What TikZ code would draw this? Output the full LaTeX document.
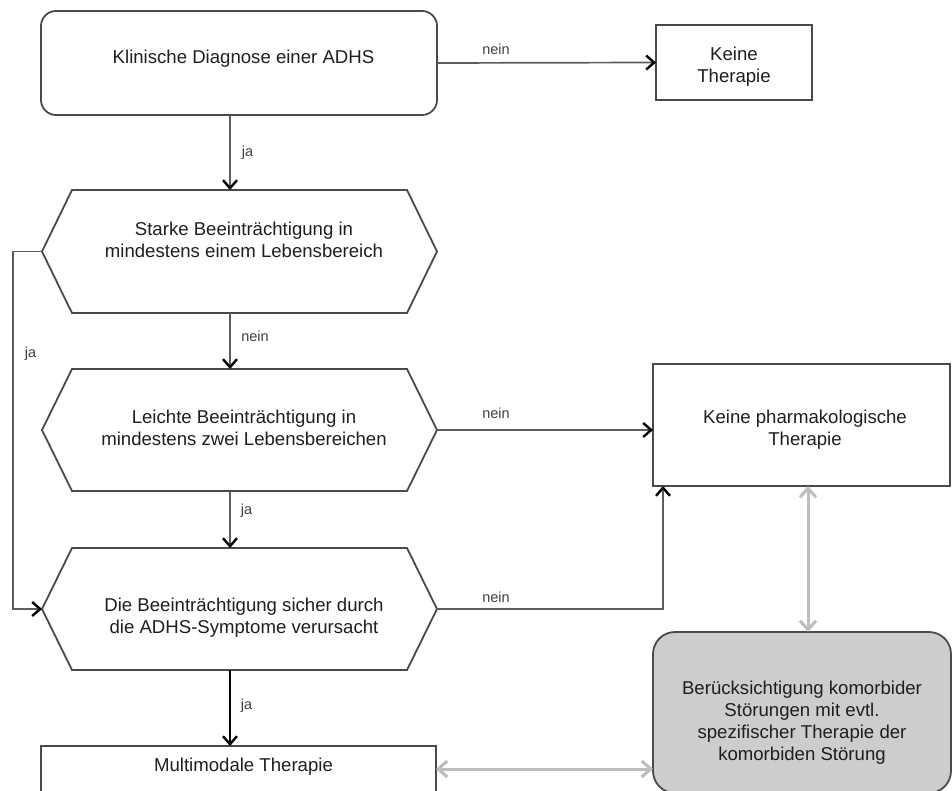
\documentclass[tikz,border=0pt]{standalone}
\usepackage{fontspec}
\setmainfont{Liberation Sans}
\usetikzlibrary{arrows.meta,calc}
\definecolor{linegray}{HTML}{5C5C5C}
\definecolor{bordergray}{HTML}{4A4A4A}
\definecolor{lightarrow}{HTML}{BDBDBD}
\definecolor{boxfill}{HTML}{CDCDCD}
\definecolor{txtcol}{HTML}{1E1E1E}
\newcommand\drawhex[1]{%
  \draw[border] ($(#1.north west)+(30,0)$) -- ($(#1.north east)+(-30,0)$) -- (#1.east)
    -- ($(#1.south east)+(-30,0)$) -- ($(#1.south west)+(30,0)$) -- (#1.west) -- cycle;}
\begin{document}
\begin{tikzpicture}[x=1pt,y=-1pt,
  border/.style={draw=bordergray,line width=1.8pt},
  frame/.style={draw=none,inner sep=0,outer sep=0},
  rbox/.style={border,rounded corners=15pt,inner sep=0,outer sep=0},
  sbox/.style={border,inner sep=0,outer sep=0},
  gbox/.style={border,fill=boxfill,rounded corners=22pt,inner sep=0,outer sep=0},
  txt/.style={anchor=north,inner sep=0,align=center,text=txtcol,font=\fontsize{18.6}{22}\selectfont},
  lab/.style={anchor=base,inner sep=0,text=txtcol!85,font=\fontsize{14.5}{17}\selectfont},
  tip/.style={Straight Barb[length=8pt,width=14pt,line width=2.4pt,color=black]},
  arr/.style={draw=linegray,line width=1.7pt,-{Straight Barb[length=8pt,width=14pt,line width=2.4pt,color=black]}},
  arrb/.style={draw=black,line width=1.3pt,-{Straight Barb[length=8pt,width=14pt,line width=2.4pt,color=black]}},
  garr/.style={draw=lightarrow,line width=3pt,{Straight Barb[length=9pt,width=16pt,line width=3pt]}-{Straight Barb[length=9pt,width=16pt,line width=3pt]}}
]
\useasboundingbox (0,0) rectangle (952,791);

% shapes
\node[rbox,minimum width=396pt,minimum height=104pt] (A) at (239,63) {};
\node[sbox,minimum width=156pt,minimum height=75pt] (B) at (734,62.5) {};
\node[frame,minimum width=395pt,minimum height=123pt] (h1) at (239.5,251.5) {};
\node[frame,minimum width=395pt,minimum height=122pt] (h2) at (239.5,430) {};
\node[frame,minimum width=395pt,minimum height=122pt] (h3) at (239.5,609) {};
\drawhex{h1}
\drawhex{h2}
\drawhex{h3}
\node[sbox,minimum width=297pt,minimum height=122pt] (P) at (801.5,425) {};
\node[gbox,minimum width=298pt,minimum height=161pt] (G) at (802,712.5) {};
\node[sbox,minimum width=395pt,minimum height=80pt] (M) at (238.5,786) {};

% texts
\node[txt] (tA) at (243.5,49) {\rule{0pt}{14pt}Klinische Diagnose einer ADHS};
\node[txt] (tB) at (734,46) {\rule{0pt}{14pt}Keine\\Therapie};
\node[txt] (t1) at (244,221) {\rule{0pt}{14pt}Starke Beeinträchtigung in\\mindestens einem Lebensbereich};
\node[txt] (t2) at (244,409) {\rule{0pt}{14pt}Leichte Beeinträchtigung in\\mindestens zwei Lebensbereichen};
\node[txt] (t3) at (244,597) {\rule{0pt}{14pt}Die Beeinträchtigung sicher durch\\die ADHS-Symptome verursacht};
\node[txt] (tP) at (805,409) {\rule{0pt}{14pt}Keine pharmakologische\\Therapie};
\node[txt] (tG) at (802,680) {\rule{0pt}{14pt}Berücksichtigung komorbider\\Störungen mit evtl.\\spezifischer Therapie der\\komorbiden Störung};
\node[txt] (tM) at (243.5,757) {\rule{0pt}{14pt}Multimodale Therapie};

% connectors
\coordinate (vx) at (230,0);
\coordinate (gx) at (808,0);
\coordinate (gy) at (0,769);

\draw[arr] (A.east) -- (B.west);
\node[lab] (l1) at (496,55) {nein};

\draw[arr] (A.south -| vx) -- (h1.north -| vx);
\node[lab] (l2) at (247.5,157) {ja};

\draw[arr] (h1.south -| vx) -- (h2.north -| vx);
\node[lab] (l3) at (255,341) {nein};

\draw[arr] (h2.south -| vx) -- (h3.north -| vx);
\node[lab] (l4) at (246.5,514) {ja};

\draw[arrb] (h3.south -| vx) -- (M.north -| vx);
\node[lab] (l5) at (246.5,709) {ja};

\draw[arr] (h1.west) -- ++(-29,0) |- (h3.west);
\node[lab] (l6) at (30.5,357) {ja};

\draw[arr] (h2.east) -- (h2.east -| P.west);
\node[lab] (l7) at (496,418) {nein};

\draw[arr] (h3.east) -| ($(P.south west)+(10,0)$);
\node[lab] (l8) at (496,602) {nein};

\draw[garr] (P.south -| gx) -- (G.north -| gx);
\draw[garr] (M.east |- gy) -- (G.west |- gy);
\end{tikzpicture}
\end{document}
